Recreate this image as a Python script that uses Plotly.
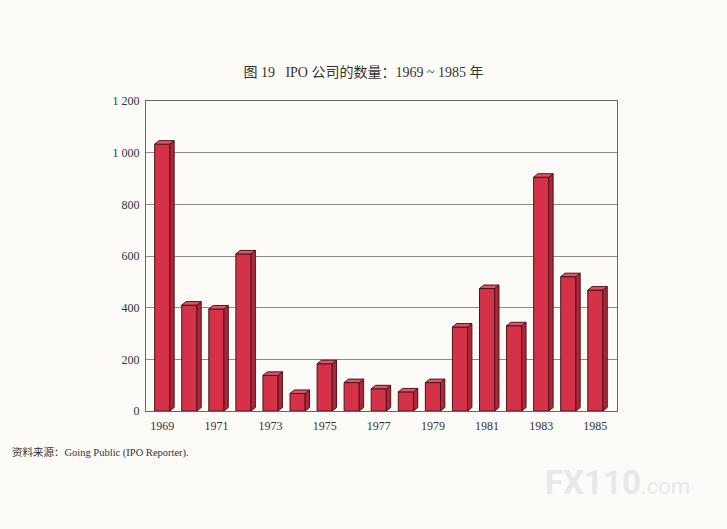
import plotly.graph_objects as go

# IPO counts per year
years = [1969, 1970, 1971, 1972, 1973, 1974, 1975, 1976, 1977,
         1978, 1979, 1980, 1981, 1982, 1983, 1984, 1985]
ipo_counts = [1033, 410, 395, 608, 138, 68, 183, 110, 86,
              74, 110, 325, 474, 330, 905, 520, 468]

y_ticks = [0, 200, 400, 600, 800, 1000, 1200]
y_tick_text = ["0", "200", "400", "600", "800", "1 000", "1 200"]
x_label_years = years[::2]

FONT = "Liberation Serif, Times New Roman, Noto Sans CJK SC, serif"
BG = "#fcfbf7"
FRONT = "#d5324a"
SIDE = "#b0253a"
TOP = "#e0546a"
EDGE = "#4a1616"

w = 0.56      # bar width (category units)
dx = 0.16     # depth offset in x
dy = 13.5     # depth offset in y (data units)

idx = list(range(len(years)))

# side and top faces for the 3D look
side_x, side_y, top_x, top_y = [], [], [], []
for i, v in zip(idx, ipo_counts):
    xl, xr = i - w / 2, i + w / 2
    side_x += [xr, xr + dx, xr + dx, xr, xr, None]
    side_y += [0, dy, v + dy, v, 0, None]
    top_x += [xl, xl + dx, xr + dx, xr, xl, None]
    top_y += [v, v + dy, v + dy, v, v, None]

fig = go.Figure()

fig.add_trace(go.Bar(
    x=idx, y=ipo_counts, width=w,
    marker=dict(color=FRONT, line=dict(color=EDGE, width=1)),
    hoverinfo="skip"
))
fig.add_trace(go.Scatter(
    x=side_x, y=side_y, mode="lines", fill="toself",
    fillcolor=SIDE, line=dict(color=EDGE, width=1), hoverinfo="skip"
))
fig.add_trace(go.Scatter(
    x=top_x, y=top_y, mode="lines", fill="toself",
    fillcolor=TOP, line=dict(color=EDGE, width=1), hoverinfo="skip"
))

fig.update_layout(
    width=727, height=529,
    margin=dict(l=146, r=110, t=101, b=118),
    paper_bgcolor=BG, plot_bgcolor=BG,
    showlegend=False,
    font=dict(family=FONT, color="#333333", size=12),
    title=dict(
        text="图 19   IPO 公司的数量：1969 ~ 1985 年",
        x=0.5, xanchor="center", y=0.864, yanchor="middle",
        font=dict(family=FONT, size=14, color="#333333")
    ),
    xaxis=dict(
        range=[-0.6, 16.8],
        tickvals=[years.index(y) for y in x_label_years],
        ticktext=[str(y) for y in x_label_years],
        showgrid=False, zeroline=False,
        showline=True, mirror=True, linecolor="#666666", linewidth=1,
        ticks="", ticklen=0, ticklabelstandoff=4
    ),
    yaxis=dict(
        range=[0, 1200],
        tickvals=y_ticks, ticktext=y_tick_text,
        showgrid=True, gridcolor="#8c8c8c", gridwidth=1,
        zeroline=False,
        showline=True, mirror=True, linecolor="#666666", linewidth=1,
        ticks="", ticklen=0, ticklabelstandoff=3
    ),
    annotations=[
        dict(
            text="资料来源：Going Public (IPO Reporter).",
            xref="paper", yref="paper", x=-136 / 471, y=-41 / 310,
            xanchor="left", yanchor="middle", showarrow=False,
            font=dict(family=FONT, size=10.5, color="#333333")
        ),
        dict(
            text="<b>FX110</b><span style='font-size:22px'>.com</span>",
            xref="paper", yref="paper", x=(543 - 146) / 471, y=-71 / 310,
            xanchor="left", yanchor="middle", showarrow=False,
            font=dict(family="Roboto, sans-serif", size=33, color="#e8e8e8")
        )
    ]
)

# drop the default page margin so the figure fills the window
fig.write_html(
    "out.html",
    config={"displayModeBar": False},
    post_script="document.body.style.margin='0';"
                "document.body.style.background='#fcfbf7';"
)
